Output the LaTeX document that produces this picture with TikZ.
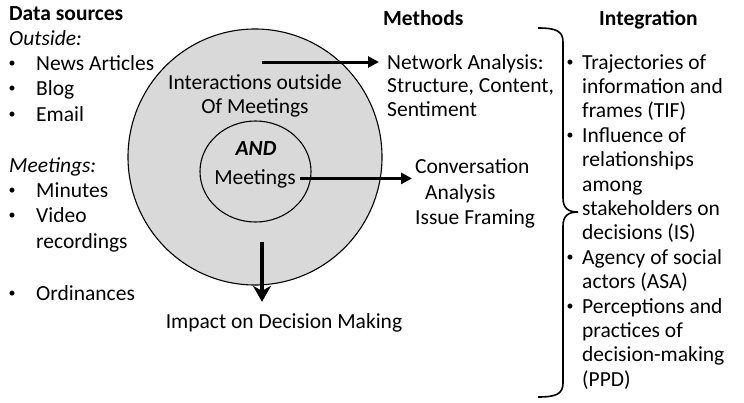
\documentclass[tikz,border=0pt]{standalone}
\usepackage{fontspec}
\setmainfont{Carlito}
\usetikzlibrary{arrows.meta}
\definecolor{discfill}{RGB}{217,217,217}
\begin{document}
\begin{tikzpicture}[x=1pt,y=-1pt,
  txt/.style={inner sep=0pt,font=\fontsize{21.5}{24}\selectfont},
  lbl/.style={txt,anchor=base west},
  ctr/.style={txt,anchor=base},
  bul/.style={inner sep=0pt,anchor=base,font=\fontsize{14}{16}\selectfont,yshift=2.5pt},
  disc/.style={draw=black,line width=1.1pt,fill=discfill},
  flow/.style={line width=3pt,-{Triangle[length=11pt,width=11pt]}},
  brace/.style={line width=1.6pt}
]
\useasboundingbox (0,0) rectangle (744,402);

% ---- Data sources column
\node[lbl,font=\fontsize{21.5}{24}\selectfont\bfseries] (ds) at (9,20) {Data sources};
\node[lbl,font=\fontsize{21.5}{24}\selectfont\itshape] (out) at (9,45) {Outside:};
\node[bul] (b1) at (12,70) {•};  \node[lbl] (news) at (36,70) {News Articles};
\node[bul] (b2) at (12,95) {•};  \node[lbl] (blog) at (36,95) {Blog};
\node[bul] (b3) at (12,121) {•}; \node[lbl] (mail) at (36,121) {Email};
\node[lbl,font=\fontsize{21.5}{24}\selectfont\itshape] (mtg) at (9,172) {Meetings:};
\node[bul] (b4) at (12,197) {•}; \node[lbl] (min) at (36,197) {Minutes};
\node[bul] (b5) at (12,222) {•}; \node[lbl] (vid) at (36,222) {Video};
\node[lbl] (rec) at (36,248) {recordings};
\node[bul] (b6) at (12,300) {•}; \node[lbl] (ord) at (36,300) {Ordinances};

% ---- Nested discs
\path[disc] (255,157) ellipse [x radius=127pt, y radius=128pt];
\path[disc] (255.5,171.5) ellipse [x radius=55.5pt, y radius=50.5pt];
\node[ctr] (inter) at (255,89) {Interactions outside};
\node[ctr] (ofm) at (255,113) {Of Meetings};
\node[ctr,font=\fontsize{21.5}{24}\selectfont\bfseries\itshape] (and) at (256,155) {AND};
\node[ctr] (meet) at (255,184) {Meetings};
\node[ctr] (impact) at (284,328) {Impact on Decision Making};

% ---- Methods column
\node[lbl,font=\fontsize{21.5}{24}\selectfont\bfseries] (meth) at (383,25) {Methods};
\node[lbl] (net1) at (387,69) {Network Analysis:};
\node[lbl] (net2) at (387,92) {Structure, Content,};
\node[lbl] (net3) at (387,116) {Sentiment};
\node[lbl] (conv1) at (415,173) {Conversation};
\node[lbl] (conv2) at (425,199) {Analysis};
\node[lbl] (conv3) at (415,224) {Issue Framing};

% ---- Connectors
\coordinate (src1) at (262,62);
\coordinate (src3) at (262,242);
\draw[flow,shorten >=8pt] (src1) -- (src1 -| net1.west);
\draw[flow,shorten <=4pt,shorten >=3pt] (meet.east) -- (meet.east -| conv1.west);
\draw[line width=4.5pt,-{Stealth[length=16pt,width=18pt,inset=5pt]},shorten >=11pt] (src3) -- (src3 |- impact.north);

% ---- Brace
\draw[brace] (538,28) .. controls (556,28) and (563,31) .. (563,42) -- (563,198)
  .. controls (563,208) and (568,212) .. (578,212)
  .. controls (568,212) and (563,216) .. (563,226) -- (563,383)
  .. controls (563,394) and (556,397) .. (538,397);

% ---- Integration column
\node[lbl,font=\fontsize{21.5}{24}\selectfont\bfseries] (integ) at (599,25) {Integration};
\foreach \t [count=\i] in {Trajectories of, information and, {frames (TIF)}, Influence of,
  relationships, among, stakeholders on, {decisions (IS)}, Agency of social, {actors (ASA)},
  Perceptions and, practices of, decision-making, {(PPD)}}
  \node[lbl] (int\i) at (582,{69+24.4*(\i-1)}) {\t};
\foreach \i in {1,4,9,11}
  \node[bul] (ib\i) at (570,{69+24.4*(\i-1)}) {•};
\end{tikzpicture}
\end{document}
